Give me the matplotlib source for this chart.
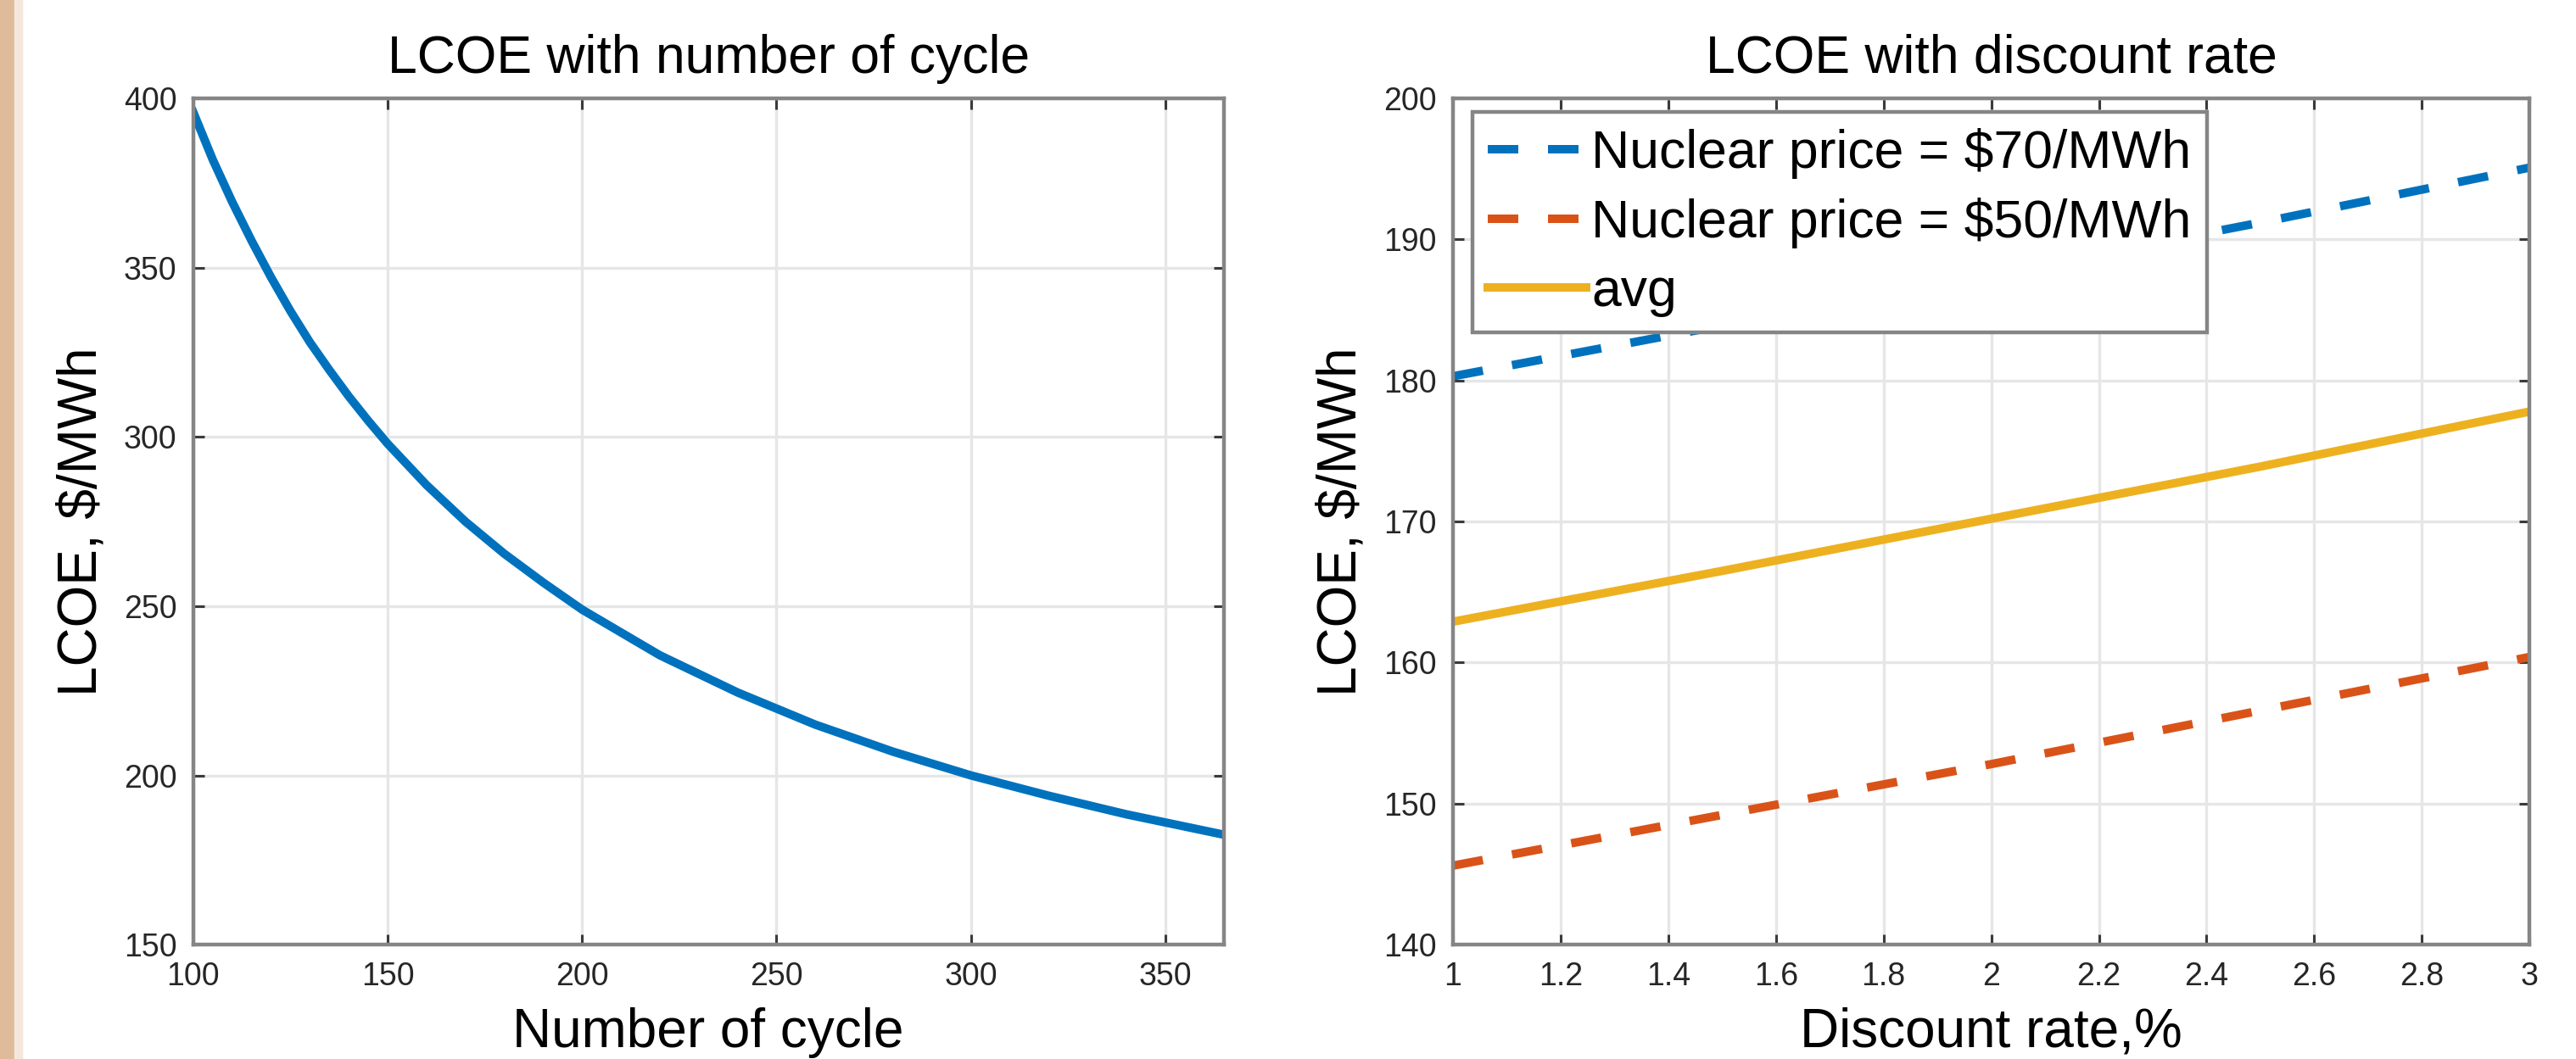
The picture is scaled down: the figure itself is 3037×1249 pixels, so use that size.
import matplotlib
matplotlib.use("Agg")
import matplotlib.pyplot as plt
from matplotlib.patches import Rectangle
from matplotlib.ticker import FormatStrFormatter

plt.rcParams['font.family'] = ['Liberation Sans', 'DejaVu Sans']

# left panel: LCOE vs number of cycles
cycles = [100, 105, 110, 115, 120, 125, 130, 135, 140, 145, 150, 160, 170, 180,
          190, 200, 220, 240, 260, 280, 300, 320, 340, 365]
lcoe_cycle = [396, 382, 369.5, 358, 347.2, 337.2, 328, 319.8, 312, 304.8, 298, 285.8,
              275, 265.5, 257, 249, 235.5, 224.5, 215, 207, 200, 194, 188.5, 182.5]

# right panel: LCOE vs discount rate
rate = [1.0, 1.5, 2.0, 2.5, 3.0]
lcoe_70 = [180.3, 183.9, 187.5, 191.2, 195.1]
lcoe_50 = [145.6, 149.2, 152.8, 156.6, 160.4]
lcoe_avg = [162.9, 166.5, 170.2, 173.9, 177.8]

labels = ['Nuclear price = $70/MWh', 'Nuclear price = $50/MWh', 'avg']
colors = ['#0072BD', '#D95319', '#EDB120']

TICK_FS = 27
LABEL_FS = 46
TITLE_FS = 45
LW = 7.2


def style_axes(ax):
    for sp in ax.spines.values():
        sp.set_color('#858585')
        sp.set_linewidth(3.2)
    ax.tick_params(direction='in', length=9, width=2.2, color='#3a3a3a',
                   labelsize=TICK_FS, labelcolor='#262626', pad=14,
                   top=True, right=True)
    ax.grid(True, color='#e6e6e6', linewidth=2.4)
    ax.set_axisbelow(True)


fig = plt.figure(figsize=(30.37, 12.49), dpi=100)
fig.patch.set_facecolor('white')
fig.patches.append(Rectangle((0, 0), 0.0055, 1, transform=fig.transFigure,
                             color='#dfbb9b', zorder=0))
fig.patches.append(Rectangle((0.0055, 0), 0.003, 1, transform=fig.transFigure,
                             color='#f4e8dc', zorder=0))

ax1 = fig.add_axes([0.075, 0.108, 0.400, 0.799])
ax1.plot(cycles, lcoe_cycle, color=colors[0], linewidth=LW,
         solid_joinstyle='round')
ax1.set_xlim(100, 365)
ax1.set_ylim(150, 400)
ax1.set_xticks([100, 150, 200, 250, 300, 350])
ax1.set_yticks([150, 200, 250, 300, 350, 400])
style_axes(ax1)
ax1.set_title('LCOE with number of cycle', fontsize=TITLE_FS, pad=22)
ax1.set_xlabel('Number of cycle', fontsize=LABEL_FS, labelpad=13)
ax1.set_ylabel('LCOE, $/MWh', fontsize=LABEL_FS, labelpad=14)

ax2 = fig.add_axes([0.564, 0.108, 0.418, 0.799])
ax2.plot(rate, lcoe_70, color=colors[0], linewidth=LW, dashes=(3.6, 3.5),
         dash_capstyle='butt', label=labels[0])
ax2.plot(rate, lcoe_50, color=colors[1], linewidth=LW, dashes=(3.6, 3.5),
         dash_capstyle='butt', label=labels[1])
ax2.plot(rate, lcoe_avg, color=colors[2], linewidth=LW, label=labels[2])
ax2.set_xlim(1, 3)
ax2.set_ylim(140, 200)
ax2.set_xticks([1, 1.2, 1.4, 1.6, 1.8, 2, 2.2, 2.4, 2.6, 2.8, 3])
ax2.set_yticks([140, 150, 160, 170, 180, 190, 200])
ax2.xaxis.set_major_formatter(FormatStrFormatter('%g'))
style_axes(ax2)
ax2.set_title('LCOE with discount rate', fontsize=TITLE_FS, pad=22)
ax2.set_xlabel('Discount rate,%', fontsize=LABEL_FS, labelpad=13)
ax2.set_ylabel('LCOE, $/MWh', fontsize=LABEL_FS, labelpad=14)

leg = ax2.legend(loc='upper left', bbox_to_anchor=(0.018, 0.984), borderaxespad=0,
                 fontsize=45, handlelength=1.85, handletextpad=0.1,
                 labelspacing=0.35, borderpad=0.3, fancybox=False,
                 framealpha=1, edgecolor='#858585')
leg.get_frame().set_linewidth(3.2)

fig.savefig('out.png', dpi=100)
